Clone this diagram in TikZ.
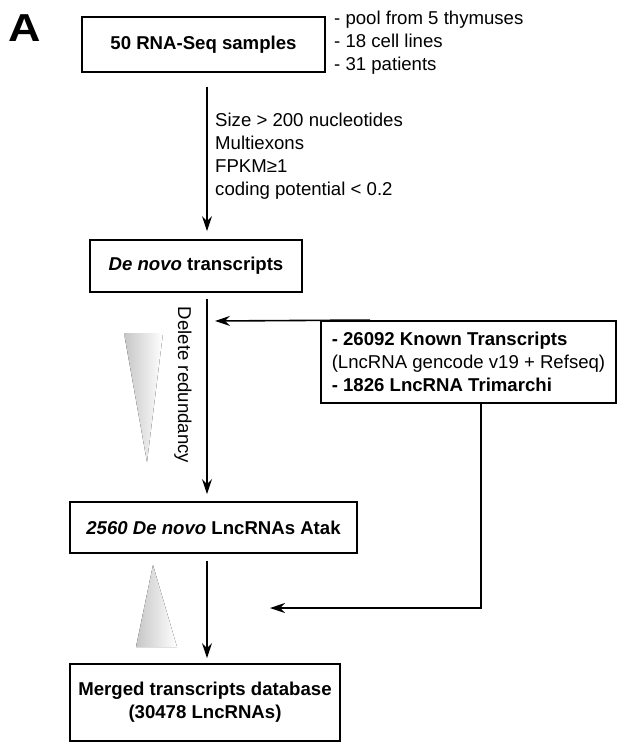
\documentclass[tikz,border=0pt]{standalone}
\usepackage{fontspec}
\setmainfont{Liberation Sans}
\usetikzlibrary{arrows.meta,positioning}
\definecolor{fade}{HTML}{C6C6C6}

\begin{document}
\begin{tikzpicture}[x=1pt,y=1pt,every node/.style={font=\fontsize{18.6}{23}\selectfont},
  box/.style={draw,line width=1.9pt,align=center,inner sep=0pt,font=\fontsize{18.6}{23}\selectfont\bfseries},
  flow/.style={-{Stealth[length=15pt,width=10pt,inset=5pt]},line width=1.6pt}]
\useasboundingbox (0,0) rectangle (617,-745);
\node[font=\fontsize{39}{39}\selectfont\bfseries,xscale=1.15,inner sep=0pt] (panel) at (24.5,-28.5) {A};
\node[box,minimum width=243,minimum height=55] (samples) at (203.5,-44.5) {50 RNA-Seq samples};
\node[align=left,anchor=west,inner sep=0pt] (origin) at (334,-43) {- pool from 5 thymuses\\- 18 cell lines\\- 31 patients};
\node[align=left,anchor=west,inner sep=0pt] (filters) at (215,-156) {Size > 200 nucleotides\\Multiexons\\FPKM≥1\\coding potential < 0.2};
\node[box,minimum width=212,minimum height=52] (denovo) at (196,-266) {\textit{De novo} transcripts};
\node[box,minimum width=295,minimum height=82,align=left,font=\fontsize{18.6}{23}\selectfont] (known) at (468.5,-362) {\textbf{- 26092 Known Transcripts}\\(LncRNA gencode v19 + Refseq)\\\textbf{- 1826 LncRNA Trimarchi}};
\node[rotate=-90,inner sep=0pt] (dedup) at (183,-385) {Delete redundancy};
\node[box,minimum width=287,minimum height=51] (atak) at (213.5,-527.5) {\textit{2560 De novo} LncRNAs Atak};
\node[box,minimum width=270,minimum height=77] (merged) at (205,-702.5) {Merged transcripts database\\(30478 LncRNAs)};
\coordinate (spine) at (207,0);\coordinate (joinA) at (215,-321);\coordinate (joinB) at (270,-608);
\fill[left color=fade,right color=white] (124,-333) -- (163,-333) -- (147,-462) -- cycle;
\fill[left color=fade,right color=white] (153,-565) -- (136,-647) -- (177,-647) -- cycle;
\draw[flow,shorten <=14pt,shorten >=8pt] (samples.south -| spine) -- (denovo.north -| spine);
\draw[flow,shorten <=6pt,shorten >=7pt] (denovo.south -| spine) -- (atak.north -| spine);
\draw[flow,shorten <=7pt,shorten >=5pt] (atak.south -| spine) -- (merged.north -| spine);
\draw[flow] ([xshift=50pt]known.north west) -- (joinA);\draw[flow] ([xshift=12.5pt]known.south) |- (joinB);
\end{tikzpicture}
\end{document}
